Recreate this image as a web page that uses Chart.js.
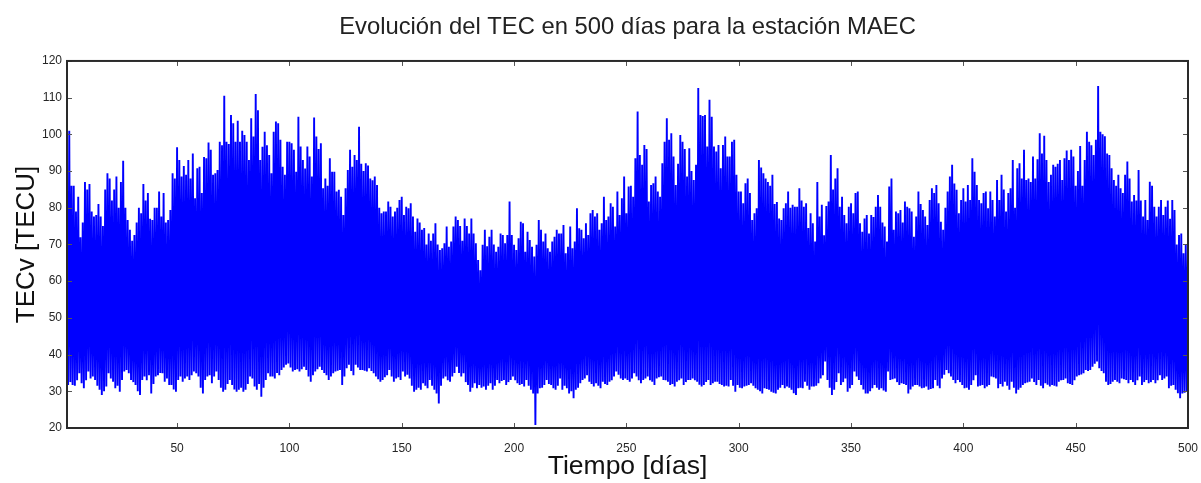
<!DOCTYPE html>
<html lang="es">
<head>
<meta charset="utf-8">
<title>TEC MAEC</title>
<script src="https://cdn.jsdelivr.net/npm/chart.js@4.4.1/dist/chart.umd.min.js"></script>
<style>
  html, body { margin: 0; padding: 0; background: #ffffff; }
  #grafico { display: block; }
</style>
</head>
<body>
<canvas id="grafico" width="1201" height="483"></canvas>
<script>
// Máximos diarios de TECv (TECU), días 0..499
const maxDiario = [
  78,101,86,86,79,83,72,76,87,85, 86.5,79,77.6,78,81,77.6,75,85,89.4,88,
  82,85,88.5,80,87,92.8,80,76.7,74,71, 72.6,76,80,78.5,86.5,82,84,77,76.7,80,
  80,84.4,77.6,84,76,76.7,79.4,89.4,88,96.5, 93,88.5,91.4,89,93,88,94.8,82.6,90.8,91.2,
  84,93.8,93.5,97.8,95.8,89,89.4,90.3,98,97, 110.5,98,97.4,105.3,103,98,103.7,98,101,99.8,
  98,93,104.4,99.4,111,106.6,93,96.6,100.7,97, 94.4,89.4,100.7,103.5,103,98.5,91.2,89,98,98,
  97.6,95.8,89.8,104.8,96.7,93,90.7,96.7,94,88.5, 104.6,99.4,96,97.6,85.3,88,86,93.5,89.8,89.8,
  84.4,84.9,83,78,85.3,90.3,95.8,91.2,94.4,93, 102.1,92,90,92.1,91.5,88,87.5,88.5,86.2,80,
  78.5,79,79,81.7,80.3,77.6,79,80,82.1,83, 78,80.3,79.9,81.2,77.6,73.5,77.1,76,74,74.5,
  70,73,71,73,75.8,70,68.5,69,70.3,74.9, 69.4,70.8,74.9,77.6,76.7,75,71,77.1,75,73,
  77.1,73,70.3,65.8,63,69.9,74,69.5,72.1,74, 70,68,69.4,73,72.6,70.3,72.6,81.7,72.6,69.9,
  68.5,71.7,76.2,75.8,68,73.5,71.2,69.4,66.7,69.9, 76.7,74,70.8,73,69,68,70.8,72.1,74,73,
  73,75.3,67.6,69.4,74.9,69,70.8,79.9,74.4,74, 71.7,75.8,72.6,78.5,79.4,77.6,78.5,74,75.8,83,
  76.7,77.6,81.2,80.3,74.9,84.4,78,82.6,88.5,78.5, 85.8,86,83,93.5,106.2,94.4,91.7,97.1,96,81.7,
  86.2,86.7,88.5,84.4,83,92.1,98,104.4,98.5,100.3, 94,86.2,92,99.8,98,96,88.5,96.2,90,87.6,
  91.7,112.6,105.3,105,105.3,96.7,109.4,104.8,96.7,95.3, 97.1,90.8,97.1,99.4,94,94,98,98.5,89,84.4,
  84.4,81.2,86.7,88,84,76.7,78.5,79.9,93,91, 89.4,88,87,86,89,81,81.6,77.1,76.7,79.9,
  81.2,84.4,80,80.8,80.3,80.3,85.3,82,80.3,81.2, 74.5,78.5,75.8,70.8,87,77.6,80.8,72.5,80.5,81.7,
  94.4,85,88,90.8,80.3,83,78,75.8,80.3,81.2, 78.5,84,84.4,75.8,73.5,77.1,78,73,78,77.5,
  80.3,83.5,80.3,76,74.9,70.8,85.8,88,74,79, 78.5,79.4,76,81.7,80.3,79.9,79,72.1,77.6,84.4,
  81,79.4,77.6,75.3,82.1,85.3,84,86.2,81.2,76.2, 74,80,84.4,88.5,91.7,86.6,84.9,78.5,82.1,85.3,
  81.7,86.2,82.1,93.5,89.8,86.2,82.1,81.2,84,84.4, 79.9,84.4,82.1,77.6,87.6,82.1,89,85,79,84,
  85.3,93,80,90.8,92.1,88,95.8,87.6,88,87, 94,88,93.2,100.3,94.8,99.6,93,87,89,91.7,
  91.2,92,93,87.6,93.5,95.6,93,95.8,94,86, 90,96.8,86,93,100.7,98,97,94.4,98.5,113.2,
  100.7,100,99.5,94.8,94.4,90.8,87.6,86,89,85.3, 84,89,92.6,88,81.7,83.5,82,90.3,82,77.6,
  82.1,76.7,87.1,86,80.3,77.6,80.3,82.1,78,80.3, 82,77,82.1,79.4,70,72.6,73,67.6,70,69
];

// Mínimos diarios de TECv (TECU), días 0..499
const minDiario = [
  33,31.7,32.5,31.7,31.5,33,34.9,32.2,30.8,33, 35.4,33.5,34,33.1,31.5,30.4,29,30,31.3,34.9,
  33.5,32.6,30.8,31.5,29.9,33.1,35.4,35.8,34.9,33.1, 32.5,31.7,30,29,33.1,34,33,34.4,29.4,32,
  34,34.4,35,34.9,32.6,33.5,31.7,31.7,30.5,29.9, 33.1,34,32.6,33.5,34,33.1,34.4,35.4,34.9,34,
  31,29.4,33.1,34,34.4,32.2,34,35.4,33.1,31, 29.9,30.4,32,33.1,31.7,30.5,29.9,30.4,31,29.9,
  30.4,32,34,33.5,31.3,30.4,32,28.5,31,33.1, 34.9,34,34,33.5,35,34.4,35.8,36.5,37.2,37.6,
  36.5,35.4,35.8,36,35.4,36,36.7,35.8,34,32.6, 34.4,35.4,36,36.7,35.8,35,34.4,33.1,34,34.9,
  35.4,35.6,35.8,31.7,34,36.3,37.2,35.5,34.4,37.2, 36.5,35.8,35.8,35.6,35.4,36.3,35.5,34.9,34,33.3,
  32.6,33.1,33.8,34.4,35.8,34,32.6,33.5,33.8,33.1, 35.4,34,34.5,33.5,31.5,29.9,30.4,31,30.4,32.2,
  31.5,30.8,33.1,31.5,30.4,29.4,26.7,31.5,33.5,34, 33,32.6,34,35,36.7,35,34,34.9,32.5,31.7,
  29.9,31,32.2,30.8,31.7,31,31.3,30.4,31.5,32.2, 30.4,31.5,33.1,32.2,32.8,33.1,31.7,32.5,33.1,34,
  33,32.2,31.7,32,31.3,33.1,31.5,30.4,29.4,20.8, 29.4,30.8,31,31.7,33.1,32,31.7,30.8,30.4,31.5,
  33.5,30.4,31.5,30.8,29.4,30,28.1,30.4,31,32.2, 33.1,33.5,34.4,32.6,32,31.3,32.2,31.5,30.8,32.6,
  32,31.7,32.6,33,34,35.4,34.5,33.5,33.1,33.5, 33.1,32.6,33.5,34.9,34,33,32.2,33.1,33.5,34,
  33,32.6,31.7,33.5,33.8,34,33.1,33,32.6,31.7, 32,31.3,32.6,33,33.5,31.7,32.5,33.1,33.1,33.5,
  33,32.6,31.8,31.3,31.7,32.5,33.1,31.7,32.2,32.6, 32.6,32,31.7,31.3,31.5,31.3,33.1,31.5,29.9,31.7,
  31,30.8,31.3,31.5,31.7,32.2,31.5,30.8,30.4,30, 29.4,30.8,30.6,30.4,29.9,29.6,29.4,30.4,31,31.7,
  30.8,31.3,31,30.4,29.5,29,30.8,31,30.8,32.6, 31.5,30.4,31.3,31.3,31.5,32.2,33.5,34.4,38.1,33.1,
  31,29,30.4,32.5,34.9,31.7,32.5,33.5,29.9,30.8, 31.7,35.4,34,33.1,31.7,30.5,29.4,29.4,30,30.8,
  31.7,31,30.4,30.8,30.2,29.9,35.4,33.1,33.3,33.5, 32.5,31.7,32.2,32,31.7,29.4,30.5,31.3,31.7,31.7,
  31.3,30.8,31,31.3,30.4,30.6,30.8,33.1,31.5,30.8, 33.5,34.5,35.8,34.9,34,33.1,32.2,33.1,32.5,31.7,
  30.8,31,30.4,31.7,33,34.4,31.3,31.5,31.7,30.8, 31.3,31.7,34,33.8,33.5,30.8,32,31.3,32.6,31.5,
  30.4,32.6,31,29.4,30.4,31,31.7,32.2,32.4,32.6, 33.5,32.5,31.7,33.1,31.5,30.8,32.2,31.8,31.3,31.7,
  31.5,31.3,32.6,33,33.1,33.5,32.2,32,31.7,33, 34,34.4,34.6,34.9,35.8,35.5,35.8,36.7,37.5,38.1,
  36.3,35.5,34.9,32.6,31.7,32,32.6,33.1,32.6,32.2, 33.5,33.3,33.1,32.2,33.1,32.5,31.7,33,34,31.7,
  32.5,33.1,32.2,32.5,33.1,32.2,33,34.4,33.1,33.5, 34,30.8,31.5,31.7,30.4,29.5,28.1,29.4,29.6,29.9
];

// Marcas de los ejes
const marcasX = [50, 100, 150, 200, 250, 300, 350, 400, 450, 500];
const marcasY = [20, 30, 40, 50, 60, 70, 80, 90, 100, 110, 120];

// Serie horaria simplificada: cada día pasa por su mínimo y su máximo
const serie = [];
for (let d = 0; d < maxDiario.length; d++) {
  serie.push({ x: d + 0.5, y: minDiario[d] });
  serie.push({ x: d + 1, y: maxDiario[d] });
}

const FUENTE = "'Liberation Sans', Arial, Helvetica, sans-serif";

// Marco de los ejes con marcas hacia dentro en los cuatro lados
const marcoEjes = {
  id: 'marcoEjes',
  afterDatasetsDraw(chart) {
    const { ctx, chartArea: a, scales } = chart;
    const L = 5;
    ctx.save();
    ctx.strokeStyle = '#555555';
    ctx.lineWidth = 1;
    ctx.beginPath();
    scales.x.ticks.forEach(t => {
      const px = Math.round(scales.x.getPixelForValue(t.value)) + 0.5;
      ctx.moveTo(px, a.bottom); ctx.lineTo(px, a.bottom - L);
      ctx.moveTo(px, a.top); ctx.lineTo(px, a.top + L);
    });
    scales.y.ticks.forEach(t => {
      const py = Math.round(scales.y.getPixelForValue(t.value)) + 0.5;
      ctx.moveTo(a.left, py); ctx.lineTo(a.left + L, py);
      ctx.moveTo(a.right, py); ctx.lineTo(a.right - L, py);
    });
    ctx.stroke();
    ctx.strokeStyle = '#2a2a2a';
    ctx.lineWidth = 2;
    ctx.strokeRect(a.left, a.top, a.right - a.left, a.bottom - a.top);
    ctx.restore();
  }
};

new Chart(document.getElementById('grafico'), {
  type: 'line',
  data: {
    datasets: [{
      data: serie,
      borderColor: '#0000ff',
      borderWidth: 1.9,
      pointRadius: 0,
      tension: 0,
      fill: false
    }]
  },
  options: {
    responsive: false,
    animation: false,
    devicePixelRatio: 1,
    layout: { padding: { left: 0, right: 13, top: 0, bottom: 0 } },
    plugins: {
      legend: { display: false },
      tooltip: { enabled: false },
      title: {
        display: true,
        fullSize: false,
        text: 'Evolución del TEC en 500 días para la estación MAEC',
        color: '#222222',
        font: { family: FUENTE, size: 23.8, weight: 'normal' },
        padding: { top: 13, bottom: 19.4 }
      }
    },
    scales: {
      x: {
        type: 'linear',
        min: 1,
        max: 500,
        afterBuildTicks: s => { s.ticks = marcasX.map(v => ({ value: v })); },
        afterFit: s => { s.height = 55; s.paddingLeft = 0; s.paddingRight = 0; },
        grid: { display: false, drawTicks: false },
        border: { display: false },
        ticks: {
          color: '#262626',
          font: { family: FUENTE, size: 12 },
          padding: 13,
          maxRotation: 0,
          autoSkip: false,
          callback: v => String(v)
        },
        title: {
          display: true,
          text: 'Tiempo [días]',
          color: '#111111',
          font: { family: FUENTE, size: 26.5 },
          padding: { top: 0, bottom: 0 }
        }
      },
      y: {
        type: 'linear',
        min: 20,
        max: 120,
        afterBuildTicks: s => { s.ticks = marcasY.map(v => ({ value: v })); },
        afterFit: s => { s.width = 67; },
        grid: { display: false, drawTicks: false },
        border: { display: false },
        ticks: {
          color: '#262626',
          font: { family: FUENTE, size: 12 },
          padding: 5,
          autoSkip: false,
          callback: v => String(v)
        },
        title: {
          display: true,
          text: 'TECv [TECU]',
          color: '#111111',
          font: { family: FUENTE, size: 26 },
          padding: { top: 11, bottom: 0 }
        }
      }
    }
  },
  plugins: [marcoEjes]
});
</script>
</body>
</html>
